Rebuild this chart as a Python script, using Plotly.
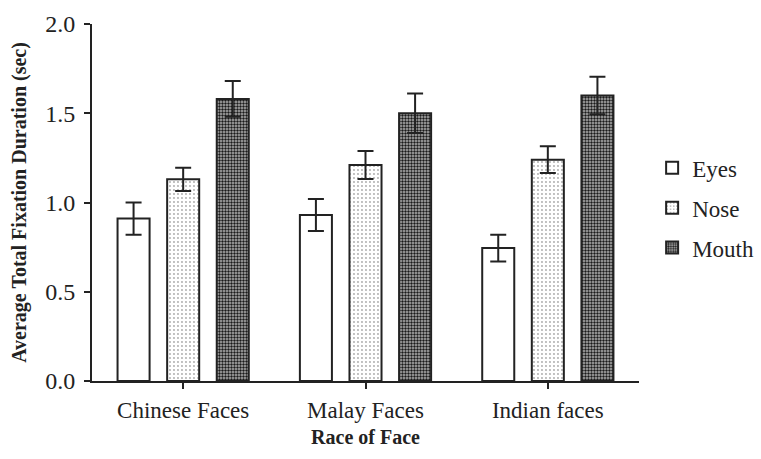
import plotly.graph_objects as go

# Average total fixation duration (sec) by face race and facial region
races = ["Chinese Faces", "Malay Faces", "Indian faces"]
regions = ["Eyes", "Nose", "Mouth"]
eyes = [0.91, 0.93, 0.745]
nose = [1.13, 1.21, 1.24]
mouth = [1.58, 1.50, 1.60]
eyes_err = [0.09, 0.09, 0.075]
nose_err = [0.065, 0.078, 0.075]
mouth_err = [0.10, 0.11, 0.105]
y_ticks = [0.0, 0.5, 1.0, 1.5, 2.0]

INK = "#222222"
SERIF = "Liberation Serif, Times New Roman, serif"

styles = {
    "Eyes": dict(color="white", pattern=None),
    "Nose": dict(color="white", pattern=dict(shape=".", size=4, solidity=0.18,
                                             fgcolor="#555555", bgcolor="white",
                                             fillmode="overlay")),
    "Mouth": dict(color="#9a9a9a", pattern=dict(shape=".", size=3, solidity=0.5,
                                                fgcolor="#1a1a1a", bgcolor="#b4b4b4",
                                                fillmode="replace")),
}

fig = go.Figure()
for name, vals, errs in zip(regions, [eyes, nose, mouth], [eyes_err, nose_err, mouth_err]):
    st = styles[name]
    marker = dict(color=st["color"], line=dict(color=INK, width=2))
    if st["pattern"] is not None:
        marker["pattern"] = st["pattern"]
    fig.add_trace(go.Bar(
        name=name, x=races, y=vals, marker=marker, legendgroup=name,
        error_y=dict(type="data", array=errs, visible=True, color=INK,
                     thickness=2, width=8),
    ))

fig.update_layout(
    width=761, height=459,
    margin=dict(l=92, r=122, t=24, b=78, autoexpand=False),
    paper_bgcolor="white", plot_bgcolor="white",
    barmode="group", bargap=0.184, bargroupgap=0.354,
    font=dict(family=SERIF, color=INK, size=23),
    showlegend=True,
    legend=dict(x=1.024, y=0.485, xanchor="left", yanchor="middle",
                font=dict(family=SERIF, size=23, color=INK),
                tracegroupgap=7, bgcolor="rgba(0,0,0,0)"),
    xaxis=dict(
        range=[-0.5, 2.5], showline=True, linecolor=INK, linewidth=2,
        ticks="outside", ticklen=6, tickwidth=2, tickcolor=INK,
        tickfont=dict(size=23), ticklabelstandoff=1,
        showgrid=False, zeroline=False,
        title=dict(text="<b>Race of Face</b>", font=dict(size=20), standoff=8),
    ),
    yaxis=dict(
        range=[0, 2.0], tickvals=y_ticks, tickformat=".1f",
        showline=True, linecolor=INK, linewidth=2,
        ticks="outside", ticklen=6, tickwidth=2, tickcolor=INK,
        tickfont=dict(size=24), ticklabelstandoff=4,
        showgrid=False, zeroline=False,
        title=dict(text="<b>Average Total Fixation Duration (sec)</b>",
                   font=dict(size=20), standoff=13),
    ),
)

fig.write_html("out.html")
